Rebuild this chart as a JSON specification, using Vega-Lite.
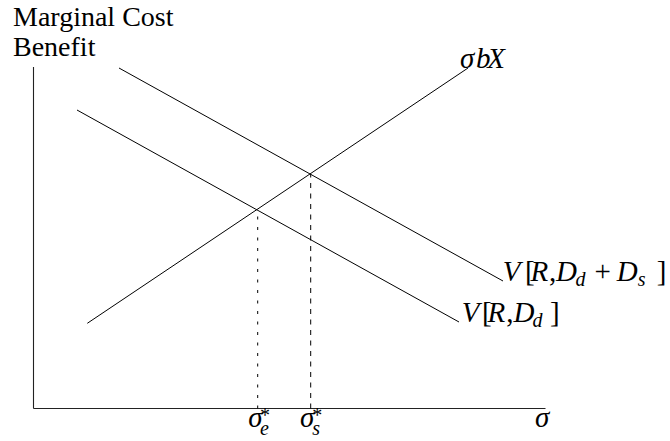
{
  "$schema": "https://vega.github.io/schema/vega-lite/v6.json",
  "width": 670,
  "height": 441,
  "padding": 0,
  "autosize": {"type": "none"},
  "background": "white",
  "config": {"view": {"stroke": null}},
  "datasets": {
    "curves": [
      {"id": "sbx", "x": 53.8, "y": 85.2},
      {"id": "sbx", "x": 434.5, "y": 340.5},
      {"id": "vs", "x": 85.5, "y": 340.5},
      {"id": "vs", "x": 469.5, "y": 127.5},
      {"id": "vd", "x": 43.5, "y": 298.5},
      {"id": "vd", "x": 425.5, "y": 86.5}
    ],
    "axes": [
      {"id": "xaxis", "x": 0, "y": 0},
      {"id": "xaxis", "x": 512, "y": 0},
      {"id": "yaxis", "x": 0, "y": 0},
      {"id": "yaxis", "x": 0, "y": 341.5}
    ],
    "drops": [
      {"id": "e", "x": 224.2, "y": 0, "ytop": 197.8},
      {"id": "s", "x": 277.2, "y": 0, "ytop": 234.5}
    ],
    "texts": [
      {"kind": "title", "x": -20.5, "y": 382.5, "t": "Marginal Cost"},
      {"kind": "title", "x": -20.5, "y": 352.5, "t": "Benefit"},
      {"kind": "math", "x": 426.5, "y": 340.5, "t": "σ"},
      {"kind": "math", "x": 442.5, "y": 340.5, "t": "b"},
      {"kind": "math", "x": 453.8, "y": 340.5, "t": "X"},
      {"kind": "math", "x": 469.3, "y": 127.5, "t": "V"},
      {"kind": "up", "x": 491.5, "y": 127.5, "t": "["},
      {"kind": "math", "x": 497.0, "y": 127.5, "t": "R"},
      {"kind": "up", "x": 515.5, "y": 127.5, "t": ","},
      {"kind": "math", "x": 522.5, "y": 127.5, "t": "D"},
      {"kind": "sub", "x": 542.0, "y": 123.0, "t": "d"},
      {"kind": "up", "x": 561.0, "y": 127.5, "t": "+"},
      {"kind": "math", "x": 583.2, "y": 127.5, "t": "D"},
      {"kind": "sub", "x": 604.2, "y": 123.0, "t": "s"},
      {"kind": "up", "x": 623.2, "y": 127.5, "t": "]"},
      {"kind": "math", "x": 428.3, "y": 86.8, "t": "V"},
      {"kind": "up", "x": 448.5, "y": 86.8, "t": "["},
      {"kind": "math", "x": 454.0, "y": 86.8, "t": "R"},
      {"kind": "up", "x": 472.7, "y": 86.8, "t": ","},
      {"kind": "math", "x": 480.0, "y": 86.8, "t": "D"},
      {"kind": "sub", "x": 499.0, "y": 81.8, "t": "d"},
      {"kind": "up", "x": 516.5, "y": 86.8, "t": "]"},
      {"kind": "math", "x": 214.8, "y": -18.2, "t": "σ"},
      {"kind": "math", "x": 266.5, "y": -18.2, "t": "σ"},
      {"kind": "math", "x": 501.5, "y": -18.2, "t": "σ"},
      {"kind": "sub", "x": 226.5, "y": -26.5, "t": "e"},
      {"kind": "sub", "x": 278.8, "y": -26.5, "t": "s"},
      {"kind": "sup", "x": 226.5, "y": -7.0, "t": "*"},
      {"kind": "sup", "x": 278.8, "y": -7.0, "t": "*"}
    ]
  },
  "encoding": {
    "x": {"field": "x", "type": "quantitative", "scale": {"domain": [-33.5, 636.5], "nice": false, "zero": false}, "axis": null},
    "y": {"field": "y", "type": "quantitative", "scale": {"domain": [-32.5, 408.5], "nice": false, "zero": false}, "axis": null}
  },
  "layer": [
    {
      "data": {"name": "axes"},
      "mark": {"type": "line", "color": "#222222", "strokeWidth": 1.1},
      "encoding": {"detail": {"field": "id"}}
    },
    {
      "data": {"name": "curves"},
      "mark": {"type": "line", "color": "black", "strokeWidth": 1},
      "encoding": {"detail": {"field": "id"}}
    },
    {
      "data": {"name": "drops"},
      "mark": {"type": "rule", "color": "black", "strokeWidth": 1},
      "encoding": {
        "y2": {"field": "ytop"},
        "strokeDash": {"field": "id", "type": "nominal", "scale": {"domain": ["e", "s"], "range": [[3, 7.5], [5, 5.5]]}, "legend": null}
      }
    },
    {
      "data": {"name": "texts"},
      "transform": [{"filter": "datum.kind === 'title'"}],
      "mark": {"type": "text", "font": "Liberation Serif", "fontSize": 28, "align": "left", "baseline": "alphabetic", "color": "black"},
      "encoding": {"text": {"field": "t"}}
    },
    {
      "data": {"name": "texts"},
      "transform": [{"filter": "datum.kind === 'math'"}],
      "mark": {"type": "text", "font": "Liberation Serif", "fontStyle": "italic", "fontSize": 29, "align": "left", "baseline": "alphabetic", "color": "black"},
      "encoding": {"text": {"field": "t"}}
    },
    {
      "data": {"name": "texts"},
      "transform": [{"filter": "datum.kind === 'up'"}],
      "mark": {"type": "text", "font": "Liberation Serif", "fontSize": 29, "align": "left", "baseline": "alphabetic", "color": "black"},
      "encoding": {"text": {"field": "t"}}
    },
    {
      "data": {"name": "texts"},
      "transform": [{"filter": "datum.kind === 'sub'"}],
      "mark": {"type": "text", "font": "Liberation Serif", "fontStyle": "italic", "fontSize": 20, "align": "left", "baseline": "alphabetic", "color": "black"},
      "encoding": {"text": {"field": "t"}}
    },
    {
      "data": {"name": "texts"},
      "transform": [{"filter": "datum.kind === 'sup'"}],
      "mark": {"type": "text", "font": "Liberation Serif", "fontSize": 20, "align": "left", "baseline": "middle", "color": "black"},
      "encoding": {"text": {"field": "t"}}
    }
  ]
}
